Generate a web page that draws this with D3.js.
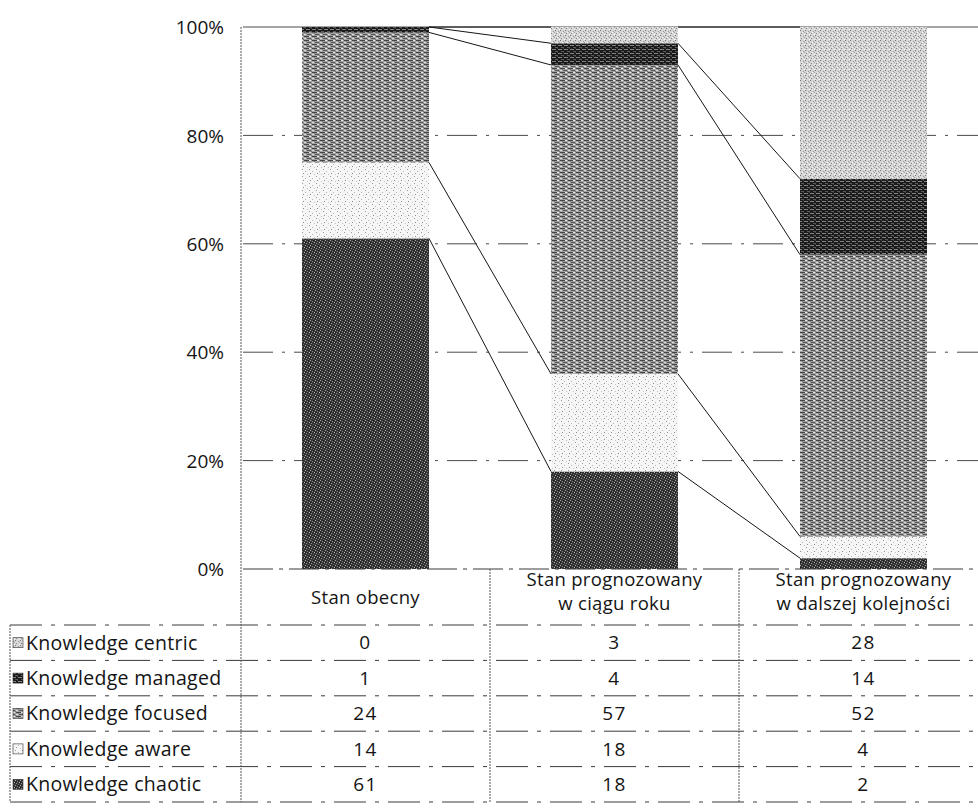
<!DOCTYPE html>
<html>
<head>
<meta charset="utf-8">
<script src="https://cdn.jsdelivr.net/npm/d3@7"></script>
<style>
  body { margin: 0; background: #fff; }
  text { font-family: "Open Sans", sans-serif; fill: #141414; }
</style>
</head>
<body>
<svg id="chart" width="978" height="809"></svg>
<script>
// Categories (header lines of the data table)
const categories = [
  ["Stan obecny"],
  ["Stan prognozowany", "w ciągu roku"],
  ["Stan prognozowany", "w dalszej kolejności"]
];
// Series values (%), one value per category
const chaotic = [61, 18, 2];
const aware   = [14, 18, 4];
const focused = [24, 57, 52];
const managed = [1, 4, 14];
const centric = [0, 3, 28];
// Series labels, in the order the data table lists them
const seriesKeys   = ["centric", "managed", "focused", "aware", "chaotic"];
const seriesLabels = ["Knowledge centric", "Knowledge managed", "Knowledge focused", "Knowledge aware", "Knowledge chaotic"];
const yTicks = [0, 0.2, 0.4, 0.6, 0.8, 1];

const seriesValues = { chaotic, aware, focused, managed, centric };
const stackOrder = ["chaotic", "aware", "focused", "managed", "centric"]; // bottom to top

const catIds = categories.map(c => c.join(" "));
const rows = catIds.map((id, i) => {
  const r = { id };
  stackOrder.forEach(k => r[k] = seriesValues[k][i]);
  return r;
});

const svg = d3.select("#chart");

// ---- textures for the bar segments ----
const defs = svg.append("defs");
const textures = {
  chaotic: { w: 5, h: 5, bg: "#343434", dots: [[0,0,1,1,"#a8a8a8"],[2,1,1,1,"#808080"],[4,2,1,1,"#c0c0c0"],[1,3,1,1,"#909090"],[3,4,1,1,"#666"],[0,2,1,1,"#141414"],[3,0,1,1,"#1c1c1c"]] },
  aware:   { w: 7, h: 7, bg: "#f6f6f6", dots: [[1,1,1,1,"#9a9a9a"],[4,3,1,1,"#b5b5b5"],[2,5,1,1,"#8c8c8c"],[6,6,1,1,"#c4c4c4"]] },
  focused: { w: 8, h: 4, bg: "#a2a2a2", dots: [[0,0,5,1,"#444"],[5,0,2,1,"#e8e8e8"],[3,2,4,1,"#555"],[0,2,2,1,"#dedede"],[7,3,1,1,"#6e6e6e"],[2,1,1,1,"#7a7a7a"]] },
  managed: { w: 6, h: 4, bg: "#1a1a1a", dots: [[0,1,4,1,"#858585"],[3,3,3,1,"#5a5a5a"],[5,0,1,1,"#404040"]] },
  centric: { w: 5, h: 5, bg: "#d6d6d6", dots: [[0,0,1,1,"#777"],[3,1,1,1,"#999"],[1,3,1,1,"#858585"],[4,4,1,1,"#fff"],[2,2,1,1,"#f2f2f2"],[4,2,1,1,"#a4a4a4"]] }
};
Object.entries(textures).forEach(([k, t]) => {
  const p = defs.append("pattern").attr("id", "tex-" + k)
    .attr("patternUnits", "userSpaceOnUse").attr("width", t.w).attr("height", t.h);
  p.append("rect").attr("width", t.w).attr("height", t.h).attr("fill", t.bg);
  t.dots.forEach(d => p.append("rect").attr("x", d[0]).attr("y", d[1])
    .attr("width", d[2]).attr("height", d[3]).attr("fill", d[4]));
});

// ---- scales ----
const x = d3.scaleBand().domain(catIds).range([241, 988]).paddingInner(0.49).paddingOuter(0.245);
const y = d3.scaleLinear().domain([0, 1]).range([569, 27]);
const bw = x.bandwidth();
const step = x.step();
const colEdge = i => x.range()[0] + i * step;

const stack = d3.stack().keys(stackOrder).offset(d3.stackOffsetExpand);
const layers = stack(rows);

// ---- gridlines ----
svg.append("g").selectAll("line").data(yTicks.filter(t => t > 0)).join("line")
  .attr("x1", 243).attr("x2", 978)
  .attr("y1", d => y(d)).attr("y2", d => y(d))
  .attr("stroke", "#4a4a4a").attr("stroke-width", 1)
  .attr("stroke-dasharray", d => d === 1 ? null : "30 9 3 9");

// ---- y axis ----
const yAxis = d3.axisLeft(y).tickValues(yTicks).tickFormat(d3.format(".0%")).tickSize(0).tickPadding(19);
const ga = svg.append("g").attr("transform", "translate(243,0)").call(yAxis);
ga.select(".domain").remove();
ga.selectAll("text").attr("font-size", 19).attr("fill", "#1c1c1c")
  .style("font-family", '"Open Sans", sans-serif').attr("dy", "0.35em");

// ---- bars ----
svg.append("g").selectAll("g").data(layers).join("g")
  .attr("fill", d => "url(#tex-" + d.key + ")")
  .selectAll("rect").data(d => d).join("rect")
  .attr("x", d => x(d.data.id))
  .attr("y", d => y(d[1]))
  .attr("width", bw)
  .attr("height", d => y(d[0]) - y(d[1]));

// ---- series lines joining segment tops ----
const links = [];
layers.forEach(layer => {
  for (let i = 0; i < layer.length - 1; i++) {
    links.push({ a: layer[i], b: layer[i + 1] });
  }
});
svg.append("g").selectAll("line").data(links).join("line")
  .attr("x1", d => x(d.a.data.id) + bw).attr("y1", d => y(d.a[1]))
  .attr("x2", d => x(d.b.data.id)).attr("y2", d => y(d.b[1]))
  .attr("stroke", "#161616").attr("stroke-width", 1);

// ---- data table ----
const tableTop = y(0);
const headerBottom = 625;
const rowH = 35.4;
const tableLeft = 10;
const tableBottom = headerBottom + rowH * seriesKeys.length;
const gt = svg.append("g");

// baseline (0%) across the category columns
gt.append("line").attr("x1", 243).attr("x2", 978).attr("y1", tableTop).attr("y2", tableTop)
  .attr("stroke", "#3a3a3a").attr("stroke-dasharray", "30 6 4 6");

// horizontal rules
const hLines = d3.range(seriesKeys.length + 1).map(i => headerBottom + i * rowH);
gt.selectAll("line.h").data(hLines).join("line").attr("class", "h")
  .attr("x1", tableLeft).attr("x2", 978).attr("y1", d => d).attr("y2", d => d)
  .attr("stroke", "#3a3a3a").attr("stroke-width", 1).attr("stroke-dasharray", "32 9 4 9");

// vertical rules
gt.append("line").attr("x1", tableLeft).attr("x2", tableLeft).attr("y1", headerBottom).attr("y2", tableBottom)
  .attr("stroke", "#555").attr("stroke-dasharray", "2 1");
const vLines = d3.range(categories.length + 1).map(colEdge);
gt.selectAll("line.v").data(vLines).join("line").attr("class", "v")
  .attr("x1", d => d).attr("x2", d => d)
  .attr("y1", (d, i) => i === 0 ? y(1) : tableTop).attr("y2", tableBottom)
  .attr("stroke", "#555").attr("stroke-dasharray", "2 1");

// column headers
categories.forEach((lines, i) => {
  const cx = colEdge(i) + step / 2;
  const mid = lines.length > 1 ? 592 : 598;
  const t = gt.append("text").attr("text-anchor", "middle").attr("font-size", 18.5)
    .attr("letter-spacing", 0.3);
  lines.forEach((ln, j) => {
    t.append("tspan").attr("x", cx)
      .attr("y", mid + (j - (lines.length - 1) / 2) * 24)
      .attr("dy", "0.35em").text(ln);
  });
});

// rows: legend key, label, values
seriesKeys.forEach((k, r) => {
  const cy = headerBottom + r * rowH + rowH / 2;
  gt.append("rect").attr("x", 13).attr("y", cy - 5).attr("width", 10).attr("height", 10)
    .attr("fill", "url(#tex-" + k + ")").attr("stroke", "#333").attr("stroke-width", 0.6);
  gt.append("text").attr("x", 26).attr("y", cy).attr("dy", "0.35em")
    .attr("font-size", 19.5).attr("letter-spacing", 0.3).text(seriesLabels[r]);
  seriesValues[k].forEach((v, i) => {
    gt.append("text").attr("x", colEdge(i) + step / 2).attr("y", cy).attr("dy", "0.35em")
      .attr("text-anchor", "middle").attr("font-size", 19).attr("letter-spacing", 1.5).text(v);
  });
});
</script>
</body>
</html>
